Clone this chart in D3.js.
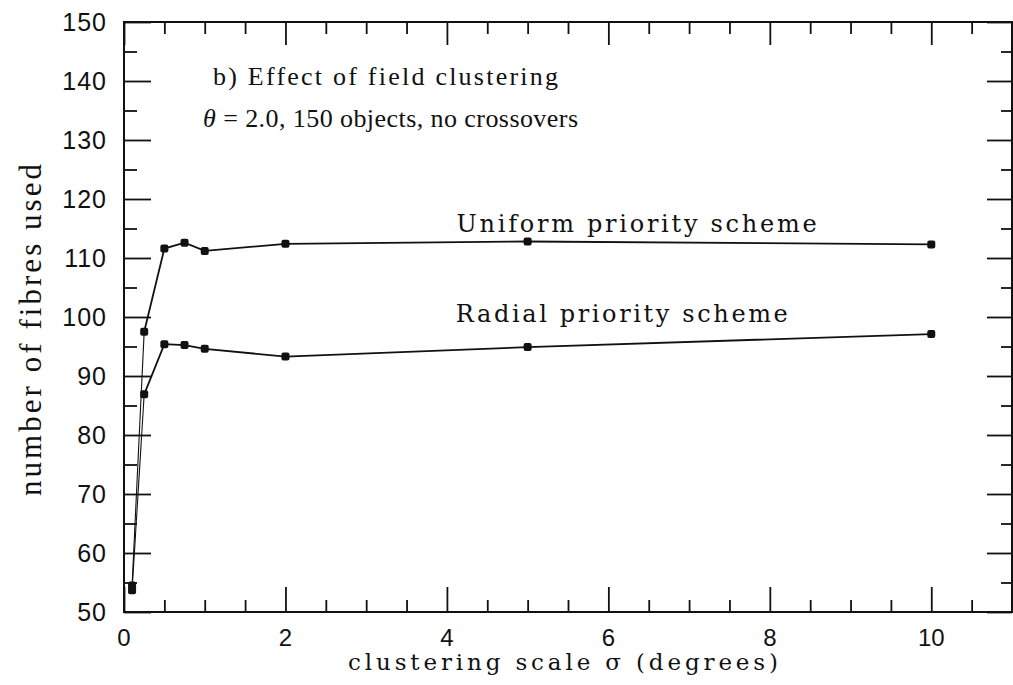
<!DOCTYPE html>
<html>
<head>
<meta charset="utf-8">
<script src="https://cdn.jsdelivr.net/npm/d3@7"></script>
<style>
  html, body { margin: 0; padding: 0; background: #fff; }
  svg { display: block; }
</style>
</head>
<body>
<svg id="chart" width="1013" height="685"></svg>
<script>
// Fibre usage versus field clustering scale, for two priority schemes
const sigma   = [0.1, 0.25, 0.5, 0.75, 1, 2, 5, 10];
const uniform = [54.5, 97.5, 111.6, 112.6, 111.2, 112.4, 112.8, 112.3];
const radial  = [53.7, 86.9, 95.4, 95.25, 94.6, 93.3, 94.9, 97.1];

const xTickLabels = [0, 2, 4, 6, 8, 10];
const yTickLabels = [50, 60, 70, 80, 90, 100, 110, 120, 130, 140, 150];

const seriesNames = ["Uniform priority scheme", "Radial priority scheme"];
const titleLines = ["b) Effect of field clustering", "θ = 2.0, 150 objects, no crossovers"];

const m = { left: 124, top: 22, right: 1012, bottom: 612 };

const svg = d3.select("#chart");

const x = d3.scaleLinear().domain([0, 11]).range([m.left, m.right]);
const y = d3.scaleLinear().domain([50, 150]).range([m.bottom, m.top]);

const ink = "#111";
const slab = "'DejaVu Serif', 'Liberation Serif', serif";
const roman = "'Liberation Serif', 'Times New Roman', serif";

// frame
svg.append("rect")
  .attr("x", m.left).attr("y", m.top)
  .attr("width", m.right - m.left).attr("height", m.bottom - m.top)
  .attr("fill", "none").attr("stroke", ink).attr("stroke-width", 2);

// tick marks on all four sides, drawn inward
const xMinor = d3.range(0, 11.01, 0.5).filter(v => v % 2 !== 0);
const yMinor = d3.range(55, 150, 10);

function tickSide(axisGen, transform, majorVals, minorVals, majorLen, minorLen) {
  const gMaj = svg.append("g").attr("transform", transform)
    .call(axisGen.tickValues(majorVals).tickSize(majorLen).tickFormat(""));
  const gMin = svg.append("g").attr("transform", transform)
    .call(axisGen.tickValues(minorVals).tickSize(minorLen).tickFormat(""));
  [gMaj, gMin].forEach(g => {
    g.select(".domain").remove();
    g.selectAll("line").attr("stroke", ink).attr("stroke-width", 1.8);
  });
}

tickSide(d3.axisTop(x), `translate(0,${m.bottom})`, xTickLabels, xMinor, 25, 12);
tickSide(d3.axisBottom(x), `translate(0,${m.top})`, xTickLabels, xMinor, 23, 12);
tickSide(d3.axisRight(y), `translate(${m.left},0)`, yTickLabels, yMinor, 27, 13);
tickSide(d3.axisLeft(y), `translate(${m.right},0)`, yTickLabels, yMinor, 25, 11);

// tick labels
const tickFont = "'Liberation Sans', Arial, sans-serif";
svg.append("g").selectAll("text").data(xTickLabels).join("text")
  .attr("x", d => x(d)).attr("y", 646)
  .attr("text-anchor", "middle")
  .attr("font-family", tickFont).attr("font-size", 24).attr("fill", ink)
  .text(d => d);

svg.append("g").selectAll("text").data(yTickLabels).join("text")
  .attr("x", 107).attr("y", d => y(d))
  .attr("dy", "0.36em")
  .attr("text-anchor", "end")
  .attr("font-family", tickFont).attr("font-size", 25).attr("fill", ink)
  .attr("letter-spacing", 1)
  .text(d => d);

// axis titles
svg.append("text")
  .attr("x", 348).attr("y", 670)
  .attr("font-family", slab).attr("font-size", 23).attr("fill", ink)
  .attr("textLength", 430).attr("lengthAdjust", "spacing")
  .text("clustering scale σ (degrees)");

svg.append("text")
  .attr("transform", "translate(41,330) rotate(-90)")
  .attr("text-anchor", "middle")
  .attr("font-family", roman).attr("font-size", 31).attr("fill", ink)
  .attr("textLength", 332).attr("lengthAdjust", "spacing")
  .text("number of fibres used");

// panel title
svg.append("text")
  .attr("x", 213).attr("y", 85)
  .attr("font-family", roman).attr("font-size", 26).attr("fill", ink)
  .attr("textLength", 345).attr("lengthAdjust", "spacing")
  .text(titleLines[0]);

const t2 = svg.append("text")
  .attr("x", 203).attr("y", 127)
  .attr("font-family", roman).attr("font-size", 26).attr("fill", ink)
  .attr("textLength", 375).attr("lengthAdjust", "spacing");
t2.append("tspan").attr("font-style", "italic").text(titleLines[1].slice(0, 1));
t2.append("tspan").text(titleLines[1].slice(1));

// series
const series = [
  { name: seriesNames[0], values: uniform, label: { x: 4.12, y: 114.4, len: 360 } },
  { name: seriesNames[1], values: radial,  label: { x: 4.11, y: 99.15, len: 332 } }
];

const line = d3.line().x(d => x(d[0])).y(d => y(d[1]));

series.forEach(s => {
  const pts = sigma.map((v, i) => [v, s.values[i]]);
  // thin rising segment at the smallest scales
  svg.append("path").datum(pts.slice(0, 2))
    .attr("d", line).attr("fill", "none")
    .attr("stroke", ink).attr("stroke-width", 1.1);
  svg.append("path").datum(pts.slice(1))
    .attr("d", line).attr("fill", "none")
    .attr("stroke", ink).attr("stroke-width", 1.8);
  svg.append("g").selectAll("rect").data(pts).join("rect")
    .attr("x", d => x(d[0]) - 4).attr("y", d => y(d[1]) - 4)
    .attr("width", 8).attr("height", 8).attr("rx", 2)
    .attr("fill", ink);
  svg.append("text")
    .attr("x", x(s.label.x)).attr("y", y(s.label.y))
    .attr("font-family", slab).attr("font-size", 24).attr("fill", ink)
    .attr("textLength", s.label.len).attr("lengthAdjust", "spacing")
    .text(s.name);
});
</script>
</body>
</html>
